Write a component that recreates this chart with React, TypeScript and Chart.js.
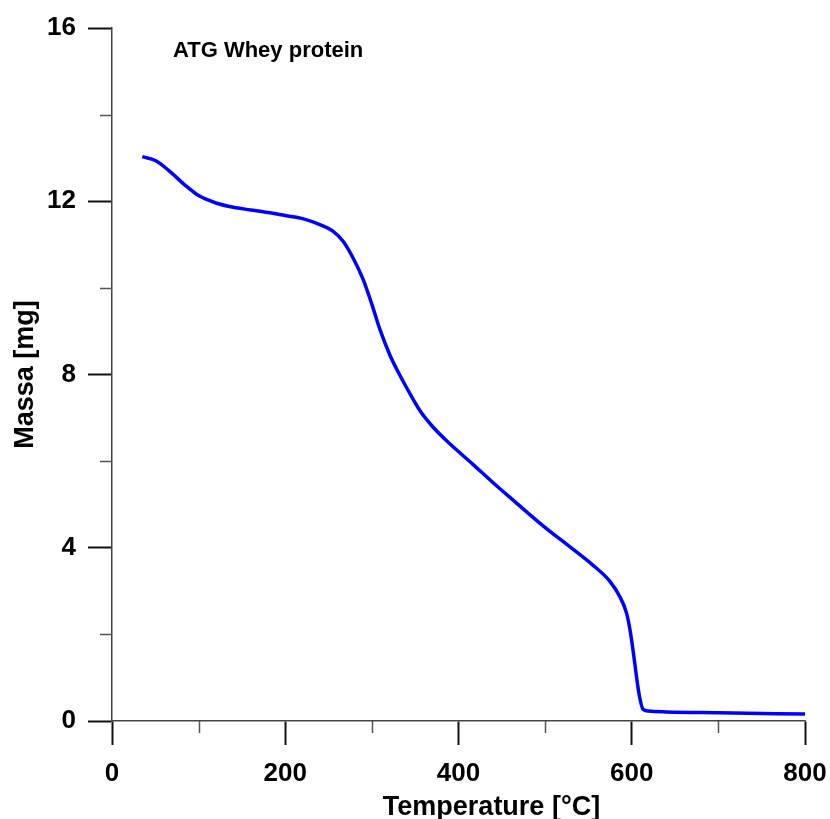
import React, { useEffect, useRef } from "react";
import { Chart, registerables } from "chart.js";

Chart.register(...registerables);

const TEMPERATURE = [
  35, 50, 65, 85, 100, 120, 140, 160, 180, 200, 220, 240, 255, 267, 278, 290, 300,
  310, 321, 334, 340, 355, 370, 390, 417, 440, 463, 498, 528, 555, 575, 586, 594,
  598, 602, 605.5, 609, 613, 619, 640, 700, 800,
];
const MASS = [
  13.03, 12.94, 12.72, 12.36, 12.13, 11.96, 11.86, 11.8, 11.74, 11.67, 11.6, 11.46,
  11.31, 11.07, 10.7, 10.19, 9.62, 9.0, 8.44, 7.92, 7.7, 7.18, 6.8, 6.4, 5.92,
  5.5, 5.1, 4.5, 4.03, 3.6, 3.22, 2.88, 2.49, 2.1, 1.56, 1.02, 0.56, 0.27, 0.23,
  0.21, 0.19, 0.16,
];
const X_MAJOR_STEP = 200;
const Y_MAJOR_STEP = 4;
const X_MINOR = [100, 300, 500, 700];
const Y_MINOR = [2, 6, 10, 14];
const X_TITLE = "Temperature [°C]";
const Y_TITLE = "Massa [mg]";
const NOTE = "ATG Whey protein";

const FONT = "'Liberation Sans', Arial, sans-serif";

const decorPlugin = {
  id: "decor",
  afterDraw(chart: any) {
    const ctx = chart.ctx;
    const xs = chart.scales.x;
    const ys = chart.scales.y;
    const area = chart.chartArea;
    ctx.save();
    // minor ticks
    ctx.strokeStyle = "#555";
    ctx.lineWidth = 1.5;
    X_MINOR.forEach((v) => {
      const px = Math.round(xs.getPixelForValue(v)) + 0.5;
      ctx.beginPath();
      ctx.moveTo(px, area.bottom);
      ctx.lineTo(px, area.bottom + 12);
      ctx.stroke();
    });
    Y_MINOR.forEach((v) => {
      const py = Math.round(ys.getPixelForValue(v)) + 0.5;
      ctx.beginPath();
      ctx.moveTo(area.left - 12, py);
      ctx.lineTo(area.left, py);
      ctx.stroke();
    });
    // axis titles
    ctx.fillStyle = "#000";
    ctx.font = `bold 27px ${FONT}`;
    ctx.textAlign = "center";
    ctx.textBaseline = "alphabetic";
    ctx.fillText(X_TITLE, (area.left + area.right) / 2 + 33, area.bottom + 94);
    ctx.save();
    ctx.translate(area.left - 79, (area.top + area.bottom) / 2);
    ctx.rotate(-Math.PI / 2);
    ctx.fillText(Y_TITLE, 0, 0);
    ctx.restore();
    // annotation
    ctx.font = `bold 22px ${FONT}`;
    ctx.textAlign = "left";
    ctx.fillText(NOTE, area.left + 61, area.top + 29);
    ctx.restore();
  },
};

export default function App() {
  const ref = useRef<HTMLCanvasElement | null>(null);
  useEffect(() => {
    if (!ref.current) return;
    const chart = new Chart(ref.current, {
      type: "line",
      data: {
        datasets: [
          {
            data: TEMPERATURE.map((t, i) => ({ x: t, y: MASS[i] })),
            borderColor: "#0000ff",
            borderWidth: 3.5,
            pointRadius: 0,
            fill: false,
            cubicInterpolationMode: "monotone",
          },
        ],
      },
      options: {
        animation: false,
        responsive: false,
        events: [],
        layout: { padding: { top: 28, right: 25, left: 0, bottom: 0 } },
        plugins: {
          legend: { display: false },
          tooltip: { enabled: false },
          title: { display: false },
        },
        scales: {
          x: {
            type: "linear",
            min: 0,
            max: 800,
            afterFit: (s: any) => {
              s.height = 98;
              s.paddingLeft = 0;
              s.paddingRight = 0;
            },
            ticks: {
              stepSize: X_MAJOR_STEP,
              color: "#000",
              font: { family: FONT, size: 26, weight: "bold" },
              padding: 13,
              maxRotation: 0,
            },
            grid: {
              display: true,
              drawOnChartArea: false,
              drawTicks: true,
              tickLength: 24,
              tickWidth: 2,
              tickColor: "#111",
            },
            border: { display: true, color: "#444", width: 1.5 },
          },
          y: {
            type: "linear",
            min: 0,
            max: 16,
            afterFit: (s: any) => {
              s.width = 112;
              s.paddingTop = 0;
              s.paddingBottom = 0;
            },
            ticks: {
              stepSize: Y_MAJOR_STEP,
              color: "#000",
              font: { family: FONT, size: 26, weight: "bold" },
              padding: 12,
            },
            grid: {
              display: true,
              drawOnChartArea: false,
              drawTicks: true,
              tickLength: 24,
              tickWidth: 2,
              tickColor: "#111",
            },
            border: { display: true, color: "#444", width: 1.5 },
          },
        },
      },
      plugins: [decorPlugin],
    } as any);
    return () => chart.destroy();
  }, []);
  return (
    <canvas
      ref={ref}
      width={830}
      height={819}
      style={{ position: "fixed", left: 0, top: 0, display: "block", background: "#fff" }}
    />
  );
}
